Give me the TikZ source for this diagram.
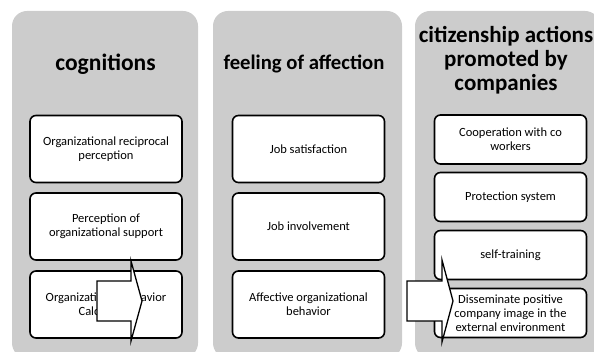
\documentclass[tikz,border=0pt]{standalone}
\usepackage{fontspec}
\setmainfont{Carlito}

\definecolor{cinzapainel}{RGB}{204,204,204}

\tikzset{
    painel/.style={fill=cinzapainel, rounded corners=15pt},
    titulo/.style={font=\bfseries\fontsize{22}{24}\selectfont, align=center, inner sep=0pt},
    caixa/.style={draw, line width=1.6pt, fill=white, rounded corners=6pt,
        minimum width=152pt, inner sep=0pt, align=center,
        font=\fontsize{12.5}{14}\selectfont},
    caixaA/.style={caixa, minimum height=67pt},
    caixaB/.style={caixa, minimum height=49pt},
    seta/.style={draw, line width=1.3pt, fill=white, line join=miter}
}

\begin{document}
\begin{tikzpicture}[x=1pt, y=-1pt]

    % Moldura (0,0) a (594,352)
    \useasboundingbox (0,0) rectangle (594,352);
    \clip (0,0) rectangle (594,352);

    % --- Paineis cinzentos ---
    \fill[painel] (12,11) rectangle (198,358);   % cognicoes
    \fill[painel] (213,11) rectangle (402,358);  % afeto
    \fill[painel] (415,11) rectangle (600,358);  % cidadania

    % 1. Titulos
    \node[titulo, font=\bfseries\fontsize{23.5}{24}\selectfont] (tcog) at (105.5,64) {cognitions};
    \node[titulo, font=\bfseries\fontsize{20.7}{24}\selectfont] (tafe) at (304,64) {feeling of affection};
    \node[titulo, font=\bfseries\fontsize{23}{24}\selectfont] (tcid) at (506,60) {citizenship actions\\promoted by\\companies};

    % 2. Caixas da primeira coluna
    \node[caixaA] (cog1) at (106,149)   {Organizational reciprocal\\perception};
    \node[caixaA] (cog2) at (106,226.5) {Perception of\\organizational support};
    \node[caixaA] (cog3) at (106,304.5) {Organizational behavior\\Calculative};

    % 3. Caixas da segunda coluna
    \node[caixaA] (afe1) at (308.5,149)   {Job satisfaction};
    \node[caixaA] (afe2) at (308.5,226.5) {Job involvement};
    \node[caixaA] (afe3) at (308.5,304.5) {Affective organizational\\behavior};

    % 4. Caixas da terceira coluna (mais baixas)
    \node[caixaB] (cid1) at (510.5,139.5) {Cooperation with co\\workers};
    \node[caixaB] (cid2) at (510.5,197)   {Protection system};
    \node[caixaB] (cid3) at (510.5,255)   {self-training};
    \node[caixaB] (cid4) at (510.5,313)   {Disseminate positive\\company image in the\\external environment};

    % 5. Setas de bloco (por cima das caixas)
    \draw[seta] (97,281) -- (131,281) -- (131,261) -- (142,301)
        -- (131,341) -- (131,321) -- (97,321) -- cycle;
    \draw[seta] (407,281) -- (442,281) -- (442,260) -- (453,301)
        -- (442,342) -- (442,321) -- (407,321) -- cycle;

\end{tikzpicture}
\end{document}
